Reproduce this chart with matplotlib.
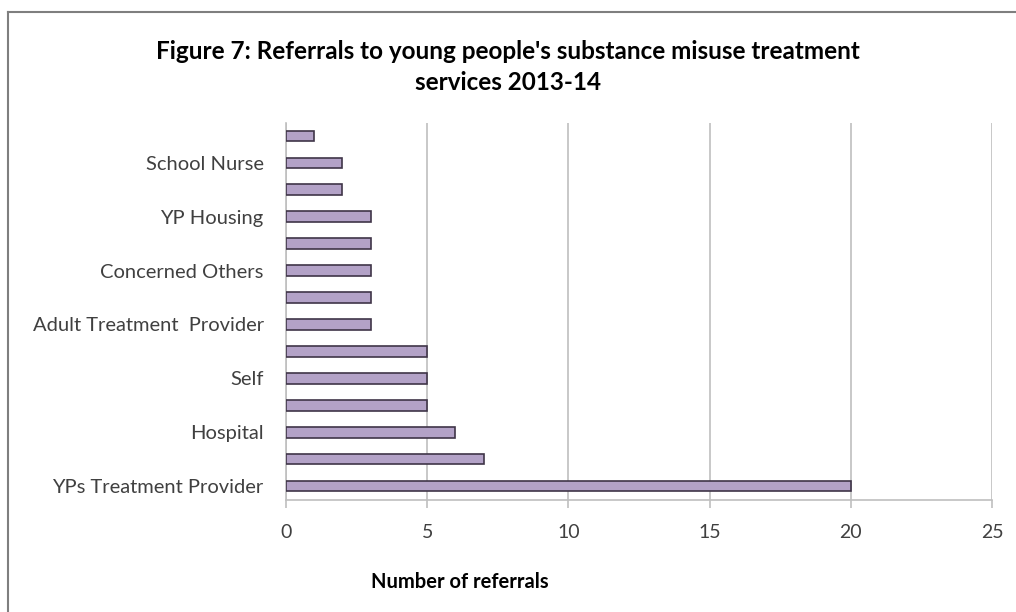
import matplotlib
matplotlib.use("Agg")
import matplotlib.pyplot as plt
from matplotlib.lines import Line2D

# Referral sources, bottom to top (only alternate ones carry a label)
categories = ["YPs Treatment Provider", "", "Hospital", "", "Self", "",
              "Adult Treatment  Provider", "", "Concerned Others", "",
              "YP Housing", "", "School Nurse", ""]
referrals = [20, 7, 6, 5, 5, 5, 3, 3, 3, 3, 3, 2, 2, 1]
x_ticks = [0, 5, 10, 15, 20, 25]

title = "Figure 7: Referrals to young people's substance misuse treatment\nservices 2013-14"
x_label = "Number of referrals"

plt.rcParams["font.family"] = ["Lato", "DejaVu Sans"]

W, H = 1016, 612
fig = plt.figure(figsize=(W / 100, H / 100), dpi=100)
fig.patch.set_facecolor("white")

ax = fig.add_axes([286 / W, 1 - 499.5 / H, (992 - 286) / W, (499.5 - 122.5) / H])

pos = list(range(len(categories)))
ax.barh(pos, referrals, height=0.4, color="#b3a2c7", edgecolor="#3f3548",
        linewidth=1.2, zorder=3)

ax.set_xlim(0, 25)
ax.set_ylim(-0.5, len(categories) - 0.5)
ax.set_xticks(x_ticks)
ax.set_xticklabels([str(t) for t in x_ticks], fontsize=14, color="#404040")
ax.set_yticks(pos)
ax.set_yticklabels(categories, fontsize=14.5, color="#404040")
ax.tick_params(axis="y", length=0, pad=16)
ax.tick_params(axis="x", length=6, width=1.2, color="#bfbfbf", pad=12,
               direction="out")

ax.grid(axis="x", color="#bfbfbf", linewidth=1.2, zorder=0)
for s in ["top", "right"]:
    ax.spines[s].set_visible(False)
for s in ["left", "bottom"]:
    ax.spines[s].set_color("#bfbfbf")
    ax.spines[s].set_linewidth(1.2)

fig.text(508 / W, 1 - 67 / H, title, ha="center", va="center", fontsize=17.5,
         fontweight="bold", color="black", linespacing=1.45)
fig.text(460 / W, 1 - 582 / H, x_label, ha="center", va="center", fontsize=14.5,
         fontweight="bold", color="black")

# chart frame (top and left edges)
fig.add_artist(Line2D([8 / W, 1], [1 - 12 / H, 1 - 12 / H], transform=fig.transFigure,
                      color="#7f7f7f", linewidth=1.5))
fig.add_artist(Line2D([8 / W, 8 / W], [0, 1 - 12 / H], transform=fig.transFigure,
                      color="#7f7f7f", linewidth=1.5))

fig.savefig("out.png", dpi=100, facecolor="white")
